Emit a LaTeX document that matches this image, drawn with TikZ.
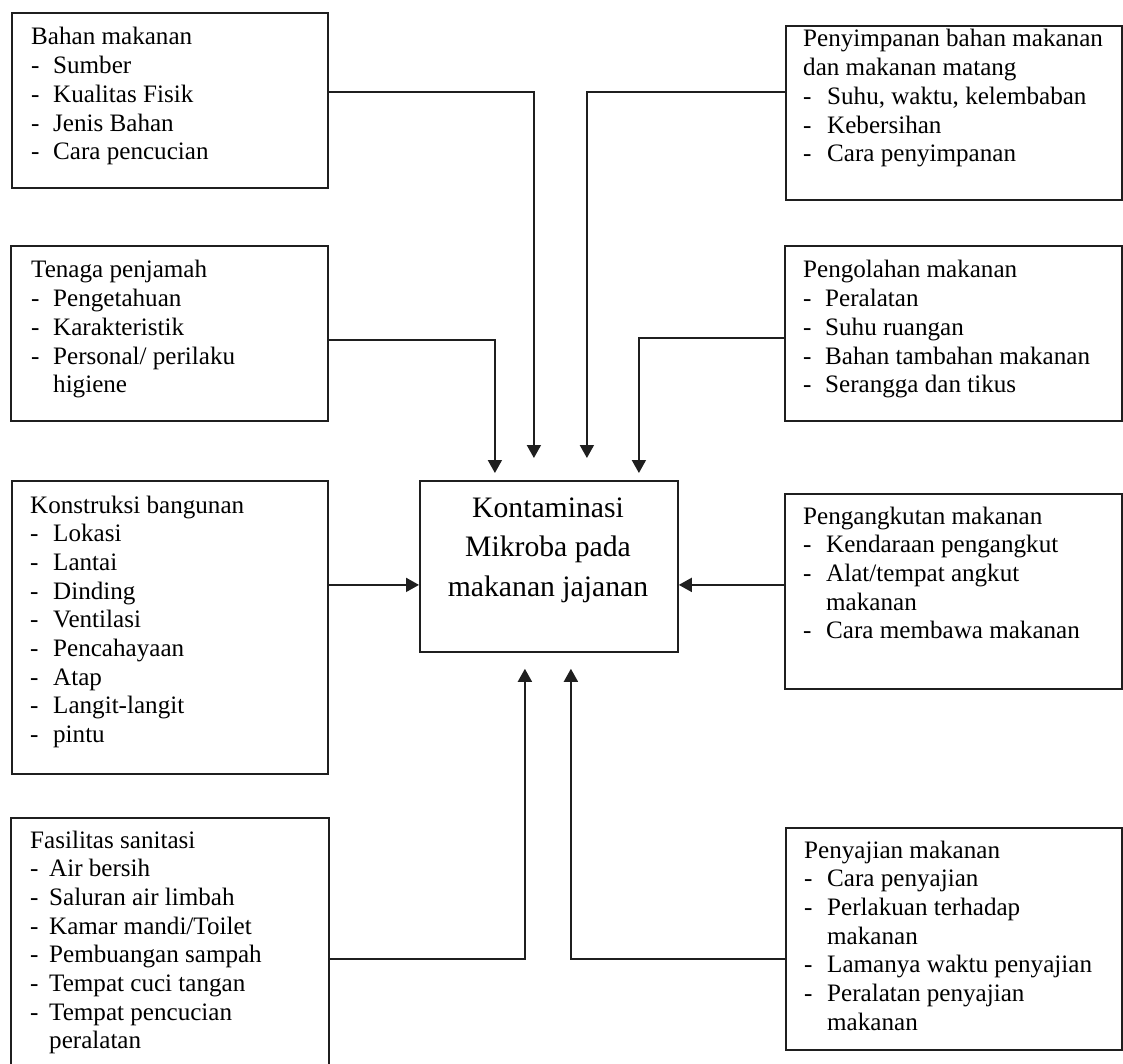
\documentclass[tikz,border=0pt]{standalone}
\usepackage{fontspec}
\setmainfont{Liberation Serif}
\usetikzlibrary{arrows.meta}
\newcommand{\itm}[2][22pt]{\makebox[#1][l]{-}#2}
\newcommand{\cnt}[2][22pt]{\hspace*{#1}#2}
\newcommand{\lfont}{\fontsize{25.1}{28.7}\selectfont}
\newcommand{\rfont}{\fontsize{25.1}{28.7}\selectfont}
\tikzset{
  box/.style={draw=black!88, line width=1.8pt, fill=white, anchor=north west, inner sep=0pt},
  txt/.style={anchor=base west, inner sep=0pt},
  conn/.style={draw=black!88, line width=1.8pt, -{Triangle[width=14pt,length=13pt]}}
}
\begin{document}
\begin{tikzpicture}[x=1pt,y=-1pt]
\useasboundingbox (0,0) rectangle (1123,1064);
\clip (0,0) rectangle (1123,1064);
\fill[white] (0,0) rectangle (1123,1064);
% boxes
\node[box, minimum width=316pt, minimum height=175pt] (bahan) at (11,12) {};
\node[box, minimum width=336pt, minimum height=174pt] (simpan) at (785,25) {};
\node[box, minimum width=317pt, minimum height=175pt] (tenaga) at (10,245) {};
\node[box, minimum width=337pt, minimum height=175pt] (olah) at (784,245) {};
\node[box, minimum width=258pt, minimum height=171pt] (center) at (419,480) {};
\node[box, minimum width=316pt, minimum height=293pt] (konst) at (11,480) {};
\node[box, minimum width=337pt, minimum height=195pt] (angkut) at (784,493) {};
\node[box, minimum width=318pt, minimum height=260pt] (fasil) at (10,817) {};
\node[box, minimum width=336pt, minimum height=222pt] (saji) at (785,827) {};
% texts
\node[txt] (bahanT) at (31,45) {\parbox[t]{290pt}{\lfont Bahan makanan\\ \itm{Sumber}\\ \itm{Kualitas Fisik}\\ \itm{Jenis Bahan}\\ \itm{Cara pencucian}}};
\node[txt] (simpanT) at (803,47) {\parbox[t]{318pt}{\rfont Penyimpanan bahan makanan\\ dan makanan matang\\ \itm[24pt]{Suhu, waktu, kelembaban}\\ \itm[24pt]{Kebersihan}\\ \itm[24pt]{Cara penyimpanan}}};
\node[txt] (tenagaT) at (31,278) {\parbox[t]{290pt}{\lfont Tenaga penjamah\\ \itm{Pengetahuan}\\ \itm{Karakteristik}\\ \itm{Personal/ perilaku}\\ \cnt{higiene}}};
\node[txt] (olahT) at (803,278) {\parbox[t]{318pt}{\rfont Pengolahan makanan\\ \itm{Peralatan}\\ \itm{Suhu ruangan}\\ \itm{Bahan tambahan makanan}\\ \itm{Serangga dan tikus}}};
\node[txt, anchor=base] (centerT) at (548,517) {\parbox[t]{250pt}{\centering\fontsize{29.7}{39.5}\selectfont Kontaminasi\\ Mikroba pada\\ makanan jajanan}};
\node[txt] (konstT) at (30,513) {\parbox[t]{290pt}{\lfont Konstruksi bangunan\\ \itm[23pt]{Lokasi}\\ \itm[23pt]{Lantai}\\ \itm[23pt]{Dinding}\\ \itm[23pt]{Ventilasi}\\ \itm[23pt]{Pencahayaan}\\ \itm[23pt]{Atap}\\ \itm[23pt]{Langit-langit}\\ \itm[23pt]{pintu}}};
\node[txt] (angkutT) at (803,524) {\parbox[t]{318pt}{\rfont Pengangkutan makanan\\ \itm[23pt]{Kendaraan pengangkut}\\ \itm[23pt]{Alat/tempat angkut}\\ \cnt[23pt]{makanan}\\ \itm[23pt]{Cara membawa makanan}}};
\node[txt] (fasilT) at (30,848) {\parbox[t]{290pt}{\lfont Fasilitas sanitasi\\ \itm[19pt]{Air bersih}\\ \itm[19pt]{Saluran air limbah}\\ \itm[19pt]{Kamar mandi/Toilet}\\ \itm[19pt]{Pembuangan sampah}\\ \itm[19pt]{Tempat cuci tangan}\\ \itm[19pt]{Tempat pencucian}\\ \cnt[19pt]{peralatan}}};
\node[txt] (sajiT) at (804,858) {\parbox[t]{318pt}{\rfont Penyajian makanan\\ \itm[23pt]{Cara penyajian}\\ \itm[23pt]{Perlakuan terhadap}\\ \cnt[23pt]{makanan}\\ \itm[23pt]{Lamanya waktu penyajian}\\ \itm[23pt]{Peralatan penyajian}\\ \cnt[23pt]{makanan}}};
% connectors
\draw[conn, shorten >=22pt] ([yshift=8.5pt]bahan.east) -| ([xshift=-15pt]center.north);
\draw[conn, shorten >=22pt] ([yshift=21pt]simpan.west) -| ([xshift=38pt]center.north);
\draw[conn, shorten >=7pt] ([yshift=-6.5pt]tenaga.east) -| ([xshift=-54pt]center.north);
\draw[conn, shorten >=7pt] ([yshift=-4.5pt]olah.west) -| ([xshift=90pt]center.north);
\draw[conn] ([yshift=42.5pt]konst.east) -- ([yshift=-18.5pt]center.west);
\draw[conn] ([yshift=6.5pt]angkut.west) -- ([yshift=-18.5pt]center.east);
\draw[conn, shorten >=16pt] ([yshift=-11pt]fasil.east) -| ([xshift=-24pt]center.south);
\draw[conn, shorten >=16pt] ([yshift=-20pt]saji.west) -| ([xshift=22pt]center.south);
\end{tikzpicture}
\end{document}
